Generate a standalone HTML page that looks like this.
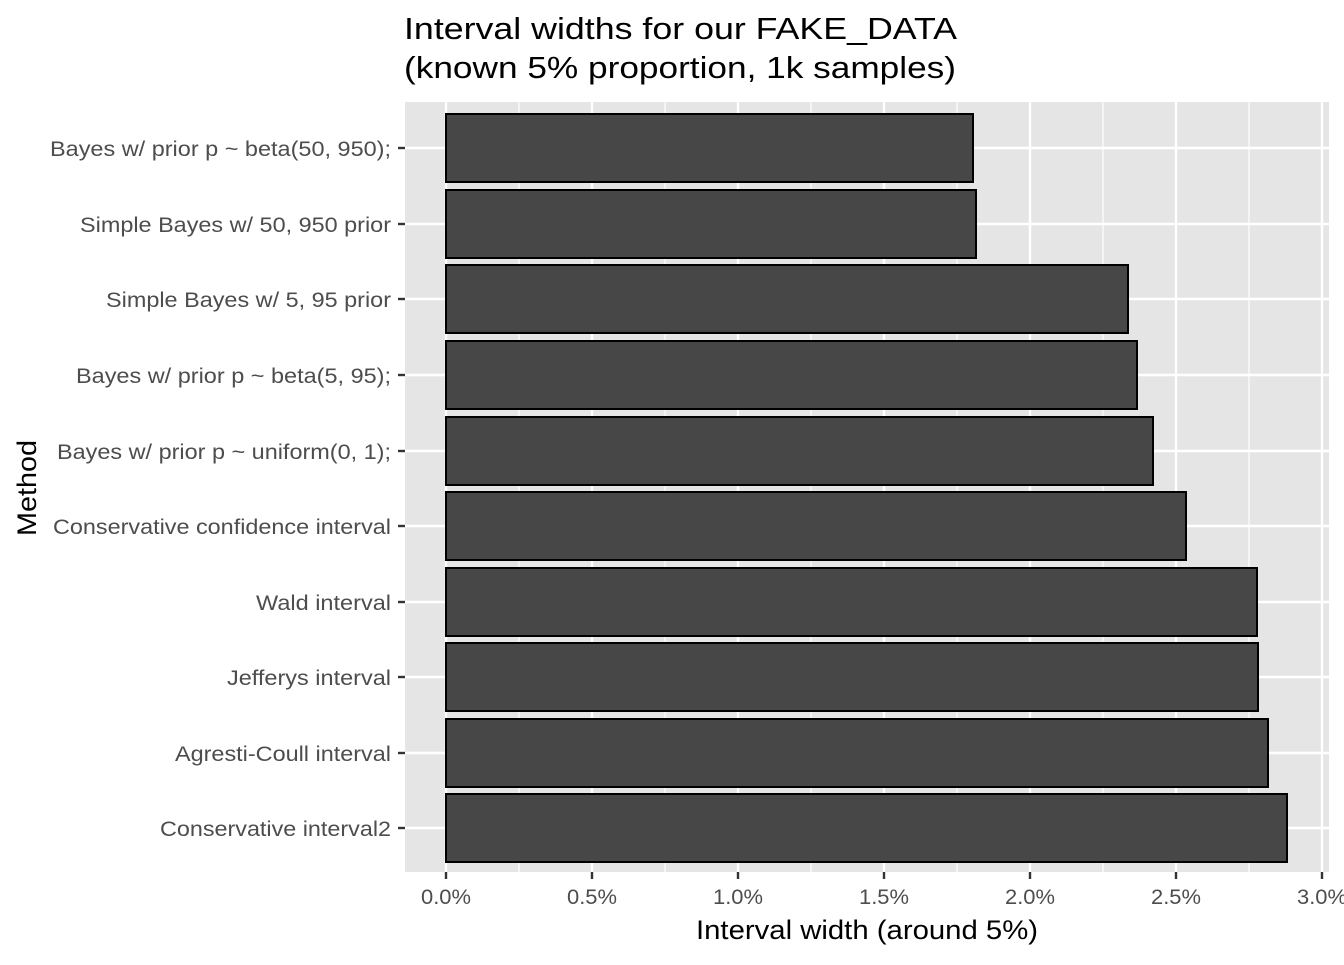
<!DOCTYPE html>
<html><head><style>body{margin:0;background:#fff}</style></head><body>
<svg width="1344" height="960" xmlns="http://www.w3.org/2000/svg" font-family="Liberation Sans, Arial, sans-serif">
<rect width="1344" height="960" fill="#fff"/>
<text x="404" y="39" font-size="31" fill="#000" textLength="553" lengthAdjust="spacingAndGlyphs">Interval widths for our FAKE_DATA</text>
<text x="404" y="78" font-size="31" fill="#000" textLength="552" lengthAdjust="spacingAndGlyphs">(known 5% proportion, 1k samples)</text>
<rect x="405" y="102" width="924" height="770" fill="#e5e5e5"/>
<g stroke="#fff" stroke-width="1.2">
<line x1="519" y1="102" x2="519" y2="872"/><line x1="665" y1="102" x2="665" y2="872"/><line x1="811" y1="102" x2="811" y2="872"/><line x1="957" y1="102" x2="957" y2="872"/><line x1="1103" y1="102" x2="1103" y2="872"/><line x1="1249" y1="102" x2="1249" y2="872"/>
</g>
<g stroke="#fff" stroke-width="2.4">
<line x1="446" y1="102" x2="446" y2="872"/><line x1="592" y1="102" x2="592" y2="872"/><line x1="738" y1="102" x2="738" y2="872"/><line x1="884" y1="102" x2="884" y2="872"/><line x1="1030" y1="102" x2="1030" y2="872"/><line x1="1176" y1="102" x2="1176" y2="872"/><line x1="1322" y1="102" x2="1322" y2="872"/>
<line x1="405" y1="148" x2="1329" y2="148"/><line x1="405" y1="224" x2="1329" y2="224"/><line x1="405" y1="299" x2="1329" y2="299"/><line x1="405" y1="375" x2="1329" y2="375"/><line x1="405" y1="451" x2="1329" y2="451"/><line x1="405" y1="526" x2="1329" y2="526"/><line x1="405" y1="602" x2="1329" y2="602"/><line x1="405" y1="677" x2="1329" y2="677"/><line x1="405" y1="753" x2="1329" y2="753"/><line x1="405" y1="828" x2="1329" y2="828"/>
</g>
<g fill="#474747" stroke="#000" stroke-width="2">
<rect x="446" y="114" width="527" height="68"/>
<rect x="446" y="190" width="530" height="68"/>
<rect x="446" y="265" width="682" height="68"/>
<rect x="446" y="341" width="691" height="68"/>
<rect x="446" y="417" width="707" height="68"/>
<rect x="446" y="492" width="740" height="68"/>
<rect x="446" y="568" width="811" height="68"/>
<rect x="446" y="643" width="812" height="68"/>
<rect x="446" y="719" width="822" height="68"/>
<rect x="446" y="794" width="841" height="68"/>
</g>
<g stroke="#333" stroke-width="2.4">
<line x1="398" y1="148" x2="405" y2="148"/><line x1="398" y1="224" x2="405" y2="224"/><line x1="398" y1="299" x2="405" y2="299"/><line x1="398" y1="375" x2="405" y2="375"/><line x1="398" y1="451" x2="405" y2="451"/><line x1="398" y1="526" x2="405" y2="526"/><line x1="398" y1="602" x2="405" y2="602"/><line x1="398" y1="677" x2="405" y2="677"/><line x1="398" y1="753" x2="405" y2="753"/><line x1="398" y1="828" x2="405" y2="828"/>
<line x1="446" y1="872" x2="446" y2="879"/><line x1="592" y1="872" x2="592" y2="879"/><line x1="738" y1="872" x2="738" y2="879"/><line x1="884" y1="872" x2="884" y2="879"/><line x1="1030" y1="872" x2="1030" y2="879"/><line x1="1176" y1="872" x2="1176" y2="879"/><line x1="1322" y1="872" x2="1322" y2="879"/>
</g>
<g font-size="21" fill="#4d4d4d" text-anchor="end" lengthAdjust="spacingAndGlyphs">
<text x="391" y="156" textLength="341" lengthAdjust="spacingAndGlyphs">Bayes w/ prior p ~ beta(50, 950);</text>
<text x="391" y="232" textLength="311" lengthAdjust="spacingAndGlyphs">Simple Bayes w/ 50, 950 prior</text>
<text x="391" y="307" textLength="285" lengthAdjust="spacingAndGlyphs">Simple Bayes w/ 5, 95 prior</text>
<text x="391" y="383" textLength="315" lengthAdjust="spacingAndGlyphs">Bayes w/ prior p ~ beta(5, 95);</text>
<text x="391" y="459" textLength="334" lengthAdjust="spacingAndGlyphs">Bayes w/ prior p ~ uniform(0, 1);</text>
<text x="391" y="534" textLength="338" lengthAdjust="spacingAndGlyphs">Conservative confidence interval</text>
<text x="391" y="610" textLength="135" lengthAdjust="spacingAndGlyphs">Wald interval</text>
<text x="391" y="685" textLength="164" lengthAdjust="spacingAndGlyphs">Jefferys interval</text>
<text x="391" y="761" textLength="216" lengthAdjust="spacingAndGlyphs">Agresti-Coull interval</text>
<text x="391" y="836" textLength="231" lengthAdjust="spacingAndGlyphs">Conservative interval2</text>
</g>
<g font-size="21" fill="#4d4d4d" text-anchor="middle">
<text x="446" y="904" textLength="50" lengthAdjust="spacingAndGlyphs">0.0%</text><text x="592" y="904" textLength="50" lengthAdjust="spacingAndGlyphs">0.5%</text><text x="738" y="904" textLength="50" lengthAdjust="spacingAndGlyphs">1.0%</text><text x="884" y="904" textLength="50" lengthAdjust="spacingAndGlyphs">1.5%</text><text x="1030" y="904" textLength="50" lengthAdjust="spacingAndGlyphs">2.0%</text><text x="1176" y="904" textLength="50" lengthAdjust="spacingAndGlyphs">2.5%</text><text x="1322" y="904" textLength="50" lengthAdjust="spacingAndGlyphs">3.0%</text>
</g>
<text x="867" y="939" font-size="27" text-anchor="middle" fill="#000" textLength="342" lengthAdjust="spacingAndGlyphs">Interval width (around 5%)</text>
<text transform="translate(36,488) rotate(-90)" font-size="27" text-anchor="middle" fill="#000" textLength="96" lengthAdjust="spacingAndGlyphs">Method</text>
</svg>
</body></html>
